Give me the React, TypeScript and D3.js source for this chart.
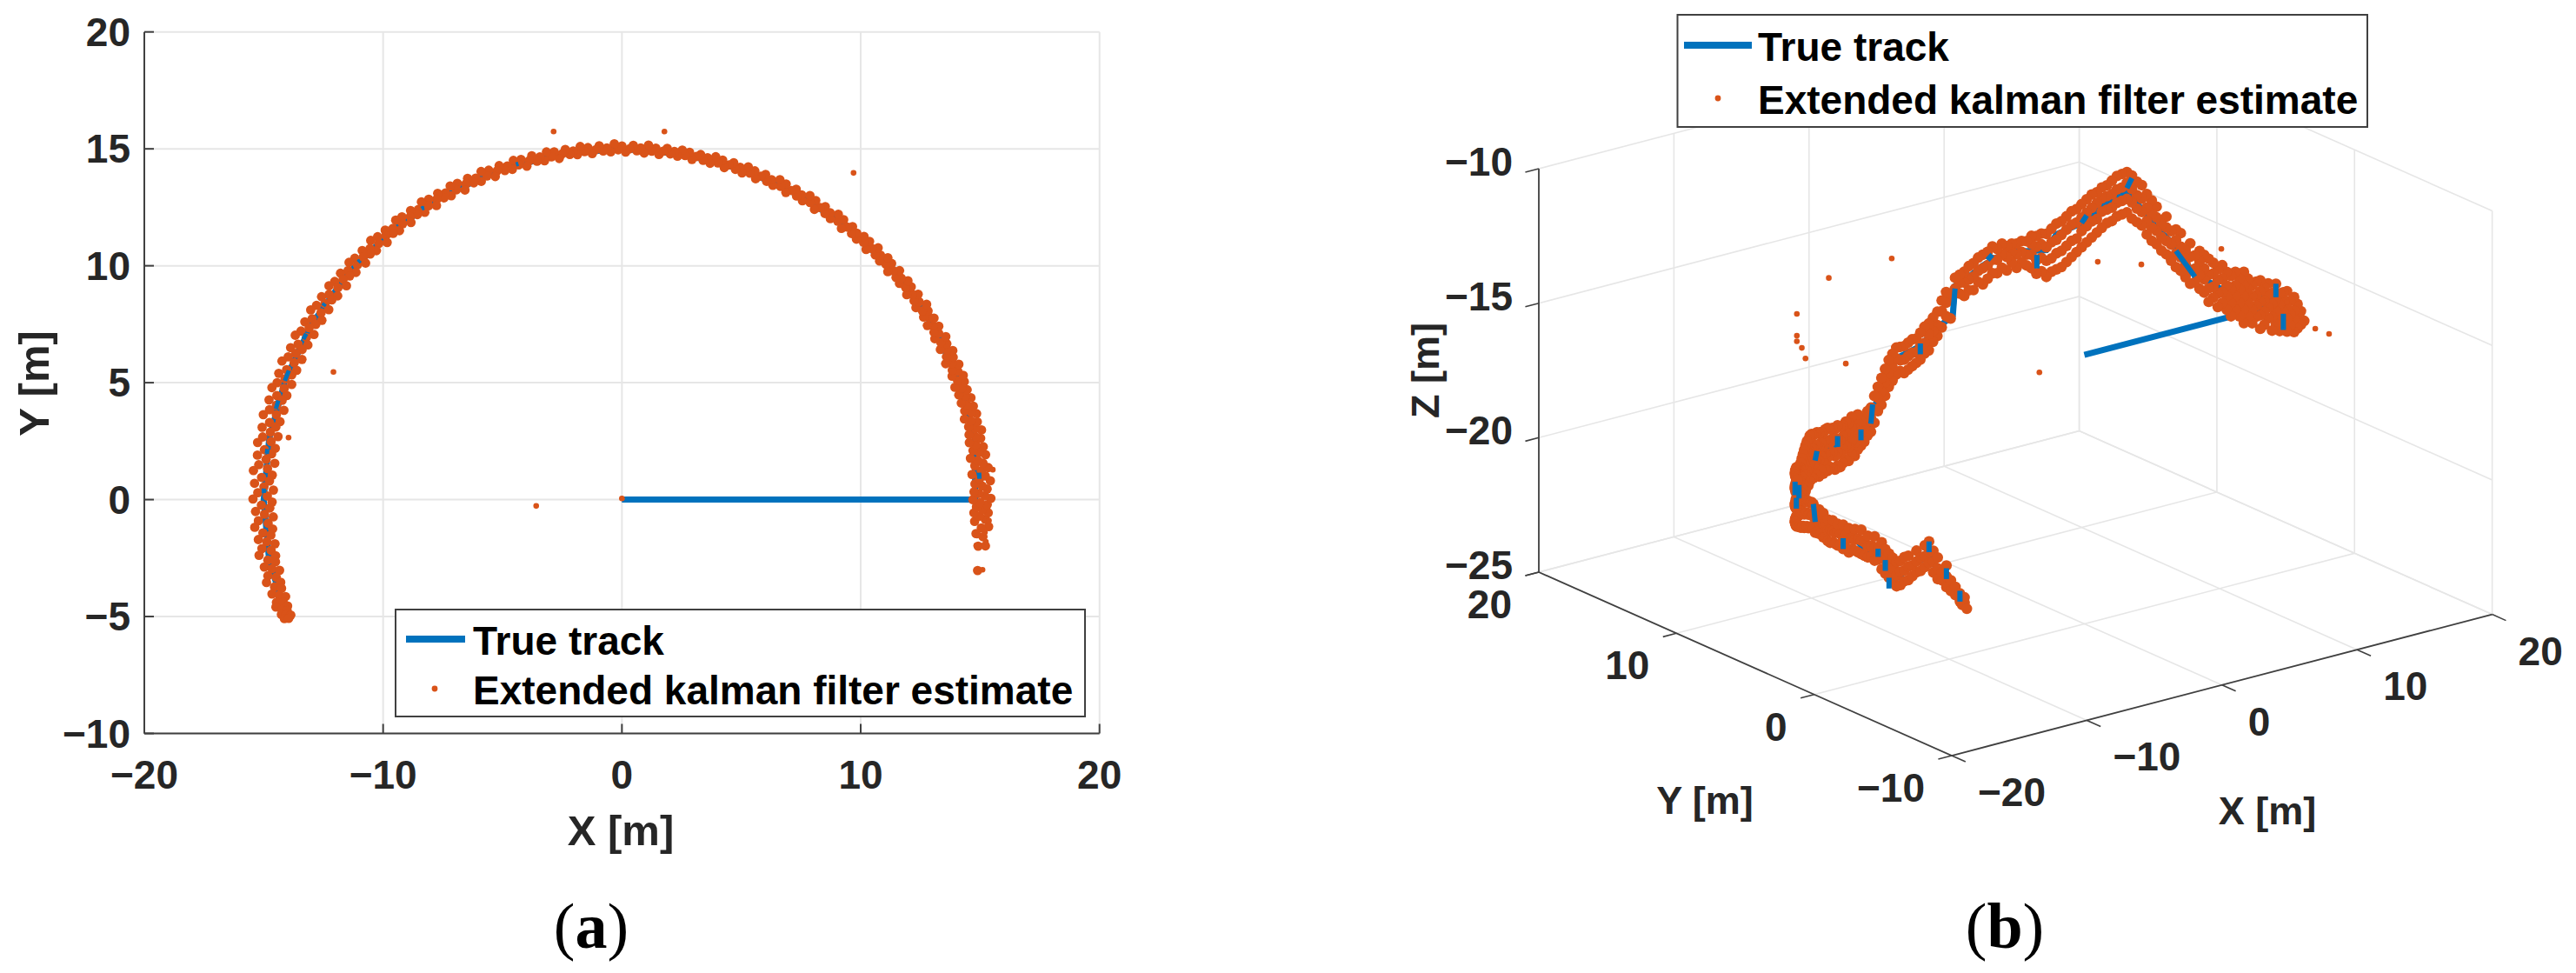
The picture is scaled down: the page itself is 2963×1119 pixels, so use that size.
import React from "react";
import * as d3 from "d3";

const xTicksA = [-20, -10, 0, 10, 20];
const yTicksA = [-10, -5, 0, 5, 10, 15, 20];
const xTicksB = [-20, -10, 0, 10, 20];
const yTicksB = [-10, 0, 10, 20];
const zTicksB = [-25, -20, -15, -10];
const seriesNames = ["True track", "Extended kalman filter estimate"];

// panel (a): true track as [angle deg, radius m]
const trackA = [[0,0],[0,14.8],[10,15],[20,15],[30,15],[40,15],[50,15],[60,15],[70,15],[80,15],[90,15],[100,15],[110,15],[120,15],[130,15],[140,15],[150,15],[160,15],[170,15],[180,15],[190,15],[199,14.9]];
// panel (a): places where the track shows through the estimates, [from deg, to deg]
const trackShowsA = [[163.6,165],[158.4,160.2],[151.8,152.8],[171.7,172.5],[178.2,178.9],[123.6,124],[106.8,107.2],[3.4,4.4],[146,146.5],[137,137.4]];

// panel (a): estimates as [angle deg, radius m], read along the band
const estimateA = [
[-11.5,15.2],[-7.6,15.05],[-7.4,15.35],[-6,15.2],[-5.6,14.9],[-4.3,15.4],[-4.6,15.1],[-3.6,14.8],[-3.2,15.25],[-2.7,15],[-2.2,14.75],[-2.1,15.35],[-1.6,15.1],[-1.2,14.85],[-0.8,15.3],[-0.5,15],[0,14.7],[0.2,15.45],[0.6,15.2],
[1,14.95],[1.3,14.75],[1.7,15.3],[2.2,15.1],[2.6,14.8],[3,15.45],[3.4,15],[3.8,15.25],[4.2,14.7],[4.7,15.1],[5.1,15.4],[5.6,14.85],[5.9,15.2],[6.4,15],[6.9,14.7],[7.2,15.35],[7.7,15.1],[8.1,14.85],[8.5,15.3],[9,15],[9.5,14.75],
[9.9,15.25],[10.3,15.05],[10.8,14.8],[11.2,15.35],[11.6,15.1],[12.1,14.85],[12.6,15.25],[13,15],[13.5,14.75],[13.9,15.3],[14.3,15.1],[14.8,14.85],[15.2,15.25],[15.7,15],[16.2,14.8],[16.6,15.25],[17.1,15.05],[17.6,14.8],[18,15.2],[18.5,15],
[19,14.75],[19.4,15.2],[19.9,14.95],[20.4,15.25],[20.9,14.8],[21.3,15.1],[21.8,14.9],[22.3,15.25],[22.8,15],[23.2,14.75],[23.7,15.15],[24.2,14.9],[24.7,15.25],[25.2,15.05],[25.7,14.8],[26.1,15.15],[26.7,14.95],[27.2,15.25],[27.7,14.8],[28.2,15.05],
[28.7,14.9],[29.2,15.2],[29.7,15],[30.2,14.8],[30.7,15.2],[31.2,15.05],[31.7,14.85],[32.2,15.15],[32.7,14.95],[33.2,15.25],[33.7,14.8],[34.2,15.05],[34.8,14.9],[35.3,15.2],[35.8,15],[36.3,14.8],[36.9,15.15],[37.4,14.95],[38,15.2],[38.5,14.85],
[39,15.05],[39.6,14.9],[40.1,15.2],[40.7,15],[41.2,14.8],[41.8,15.15],[42.3,14.95],[42.9,15.2],[43.4,14.85],[44,15.05],[44.6,14.9],[45.1,15.2],[45.7,15],[46.3,14.8],[46.8,15.15],[47.4,14.95],[48,15.15],[48.6,14.85],[49.2,15.05],[49.8,14.9],
[50.4,15.15],[51,15],[51.6,14.8],[52.2,15.15],[52.8,14.95],[53.4,15.2],[54,14.85],[54.6,15.05],[55.2,14.9],[55.8,15.15],[56.4,15],[57,14.8],[57.6,15.15],[58.2,14.95],[58.8,15.2],[59.4,14.85],[60,15.05],[60.6,14.9],[61.2,15.15],[61.8,15],
[62.4,14.82],[63,15.15],[63.6,14.95],[64.2,15.2],[64.8,14.85],[65.4,15.05],[66,14.9],[66.6,15.15],[67.2,15],[67.8,14.82],[68.4,15.12],[69,14.95],[69.6,15.18],[70.2,14.85],[70.8,15.05],[71.4,14.9],[72,15.15],[72.6,15],[73.2,14.83],[73.8,15.12],
[74.4,14.95],[75,15.18],[75.6,14.85],[76.2,15.05],[76.8,14.9],[77.4,15.12],[78,15],[78.6,14.84],[79.2,15.12],[79.8,14.95],[80.4,15.16],[81,14.87],[81.6,15.05],[82.2,14.92],[82.8,15.14],[83.4,15],[84,14.84],[84.6,15.1],[85.2,14.95],[85.8,15.2],
[86.4,14.85],[87,15.06],[87.6,14.93],[88.2,15.16],[88.8,15],[89.4,14.86],[90,15.12],[90.6,14.96],[91.2,15.22],[91.8,14.88],[92.4,15.05],[93,14.93],[93.6,15.16],[94.2,15],[94.8,14.85],[95.4,15.12],[96,14.96],[96.6,15.2],[97.2,14.87],[97.8,15.05],
[98.4,14.92],[99,15.16],[99.6,15],[100.2,14.82],[100.8,15.14],[101.4,14.95],[102,15.2],[102.6,14.85],[103.2,15.05],[103.8,14.9],[104.4,15.18],[105,15],[105.6,14.8],[106.2,15.15],[106.8,14.95],[107.4,15.2],[108,14.85],[108.6,15.05],[109.2,14.9],[109.8,15.18],
[110.4,15],[111,14.8],[111.6,15.15],[112.2,14.95],[112.8,15.22],[113.4,14.83],[114,15.05],[114.6,14.9],[115.2,15.18],[115.8,15],[116.4,14.78],[117,15.18],[117.6,14.95],[118.2,15.22],[118.8,14.83],[119.4,15.05],[120,14.9],[120.5,15.2],[121.1,15],[121.7,14.78],
[122.2,15.18],[122.8,14.95],[123.4,15.25],[123.9,14.8],[124.5,15.05],[125.1,14.9],[125.6,15.2],[126.2,15],[126.7,14.78],[127.3,15.2],[127.9,14.95],[128.4,15.25],[129,14.8],[129.6,15.05],[130.1,14.88],[130.7,15.2],[131.2,15],[131.8,14.75],[132.3,15.2],[132.9,14.95],
[133.5,15.28],[134,14.8],[134.5,15.05],[135.1,14.88],[135.6,15.22],[136.2,15],[136.7,14.75],[137.3,15.22],[137.8,14.95],[138.4,15.28],[138.9,14.78],[139.5,15.08],[140,14.88],[140.6,15.25],[141.1,15],[141.6,14.72],[142.2,15.22],[142.7,14.95],[143.3,15.3],[143.8,14.75],
[144.4,15.08],[144.9,14.85],[145.4,15.28],[146,15],[146.5,14.72],[147,15.25],[147.6,14.92],[148.1,15.35],[148.6,14.72],[149.2,15.1],[149.7,14.85],[150.2,15.3],[150.7,15.02],[151.3,14.7],[151.8,15.25],[152.3,14.92],[152.8,15.38],[153.3,14.72],[153.9,15.1],[154.4,14.85],
[154.9,15.32],[155.4,15.02],[155.9,14.68],[156.4,15.25],[156.9,14.92],[157.4,15.42],[157.9,14.7],[158.4,15.1],[158.9,14.82],[159.4,15.35],[159.9,15.02],[160.4,14.68],[160.9,15.28],[161.4,14.92],[161.9,15.42],[162.4,14.72],[162.9,15.12],[163.4,14.85],[163.9,15.38],[164.4,15.02],
[164.9,14.66],[165.4,15.25],[165.9,14.92],[166.4,15.45],[166.9,14.7],[167.4,15.12],[167.9,14.82],[168.4,15.38],[168.9,15],[169.4,14.65],[169.9,15.28],[170.4,14.9],[170.9,15.45],[171.4,14.68],[171.9,15.12],[172.4,14.8],[172.9,15.38],[173.4,15],[173.9,14.62],[174.4,15.28],
[174.9,14.9],[175.4,15.48],[175.9,14.68],[176.4,15.12],[176.9,14.78],[177.4,15.4],[177.9,15],[178.4,14.6],[178.9,15.25],[179.4,14.85],[179.9,15.45],[180.4,14.65],[180.9,15.1],[181.4,14.75],[181.9,15.35],[182.4,14.98],[182.9,14.62],[183.4,15.25],[183.9,14.85],[184.4,15.42],
[184.9,14.68],[185.4,15.1],[185.9,14.78],[186.4,15.32],[186.9,14.98],[187.4,14.65],[187.9,15.22],[188.4,14.85],[188.9,15.38],[189.4,14.7],[189.9,15.05],[190.4,14.75],[190.9,15.25],[191.4,14.95],[191.9,14.65],[192.4,15.18],[192.9,14.85],[193.4,15.3],[193.9,14.72],[194.4,15.02],
[194.9,14.75],[195.4,15.2],[195.9,14.92],[196.4,14.68],[196.9,15.12],[197.2,14.85],[197.6,15.2],[198,14.72],[198.3,15],[198.7,14.8],[199,15.08],[199.3,14.92],[199.6,14.72],[199.8,15.02],[200,14.85],
];

// panel (a): isolated estimates as [x m, y m]
const outliersA = [[0,0.05],[-3.59,-0.27],[-2.86,15.74],[1.78,15.74],[9.7,13.97],[-12.08,5.46],[-13.96,2.65],[15.53,1.28],[15.37,-0.9],[14.87,-1.54],[14.84,-1.96],[15.24,-1.8],[15.1,-3],[15.2,-1.4]];

// panel (b): true track as [angle deg, radius m, z m]
const trackB = [[0,0,-15],[0,15,-15],[8,15,-15.3],[14,15,-15.5],[20,15,-15.2],[24,15,-14.8],[27,15,-14.1],[30,15,-13.7],[34,15,-12.9],[36,15,-12.5],[38,15,-12.8],[41,15,-13.2],[45,15,-13.9],[50,15,-14.4],[52,15,-15],[58,15,-15.1],[62,15,-15.3],[65,15,-15.6],[68,15,-16],[71,15,-16.3],[71.5,15,-17.4],[75,15,-17.8],[79,15,-18.4],[85,15,-18.7],[88,15,-19.4],[90,15,-20],[92,15,-20.7],[92.3,15,-21.2],[100,15,-21.2],[108,15,-21.2],[115,15,-21.1],[120,15,-21.1],[125,15,-21.7],[135,15,-21.4],[145,15,-21.1],[150,15,-20.9],[155,15,-20.6],[157,15,-21.1],[165,15,-20.6],[172,15,-20.3],[176,15,-20.7],[180,15,-20.3],[184,15,-21.1],[188,15,-20.4],[192,15,-19.8],[194,15,-20.3],[196,15,-20.4],[200,15,-21.2]];
// panel (b): places where the track shows through the estimates, [deg, z, deg, z]
const trackShowsB = [[71,-16.4,71.5,-17.3],[53.9,-15.2,53.9,-15.7],[26,-14.4,22,-15.2],[3,-14.5,3,-15],[1,-15.5,1,-16.1],[79,-18.3,79,-18.7],[91.5,-20.2,92,-20.9],[95,-21,95,-21.4],[155,-20.2,156,-20.8],[168,-20.6,168,-21],[179,-20.3,179,-20.6],[181,-20.6,181,-21],[182,-21.2,182,-21.6],[192,-19.3,192,-19.7],[196,-20.1,196,-20.5],[199,-20.8,199,-21.2],[134,-20.8,134,-21.3],[103,-20.9,103,-21.3],[35,-12,36,-12.4],[44,-13.6,45,-13.9],[63,-15.2,64,-15.4],[112,-21,113,-21.3],[125,-21.5,125,-22],[140,-21,140,-21.4]];

// panel (b): estimates, each row [angle deg, z m, z m, ...], read along the band
const estimateB = [
[-5,-15.4],[-4,-15.6,-15.1],[-3,-15.8,-15.3,-14.9],[-2,-16,-15.5,-15.2,-14.7],[-1,-15.8,-15.4,-14.9],[0,-16.1,-15.6,-15.2,-14.6],[1,-15.9,-15.4,-15,-14.7],[2,-16.2,-15.7,-15.2,-14.8],[3,-16,-15.5,-15.1,-14.5],[4,-16.3,-15.8,-15.3,-14.9],
[5,-15.9,-15.5,-15,-14.6],[6,-16.2,-15.7,-15.3,-14.8],[7,-16.4,-15.9,-15.4,-15,-14.6],[8,-16,-15.6,-15.2,-14.7],[9,-16.3,-15.8,-15.3,-14.9],[10,-16.1,-15.6,-15.1,-14.7],[11,-16.4,-15.9,-15.4,-15,-14.5],[12,-16.2,-15.7,-15.2,-14.8],[13,-16,-15.5,-15.1,-14.6],[14,-16.3,-15.8,-15.3,-14.8],
[15,-16.1,-15.6,-15.2,-14.7],[16,-15.9,-15.5,-15,-14.5],[17,-16.1,-15.6,-15.1,-14.7],[18,-15.8,-15.4,-14.9,-14.5],[19,-16,-15.5,-15,-14.4],[20,-15.7,-15.2,-14.8,-14.3],[21,-15.6,-15.1,-14.6,-14.2],[22,-15.4,-14.9,-14.4],[23,-15.5,-15,-14.5,-14],[24,-15.3,-14.8,-14.3],
[25,-15.1,-14.6,-14.2,-13.7],[26,-15,-14.5,-14,-13.6],[27,-14.8,-14.2,-13.7],[28,-14.6,-14.1,-13.6,-13.2],[29,-14.5,-14,-13.5],[30,-14.3,-13.8,-13.3,-12.9],[31,-14.2,-13.7,-13.2,-12.7],[32,-14,-13.5,-13,-12.5],[33,-13.7,-13.2,-12.7,-12.2],[34,-13.6,-13.1,-12.6,-12.1],
[35,-13.5,-12.9,-12.4,-11.9],[36,-13.3,-12.8,-12.2,-11.8],[37,-13.4,-12.9,-12.4,-11.9],[38,-13.5,-13,-12.5,-12],[39,-13.7,-13.2,-12.7,-12.2],[40,-13.8,-13.3,-12.8,-12.4],[41,-14,-13.4,-12.9,-12.5],[42,-14.2,-13.7,-13.1,-12.7],[43,-14.4,-13.8,-13.3,-12.8],[44,-14.6,-14,-13.5,-13],
[45,-14.8,-14.2,-13.7,-13.2],[46,-15,-14.5,-13.9,-13.4],[47,-15.2,-14.6,-14,-13.5],[48,-15.4,-14.8,-14.2,-13.7],[49,-15.6,-15,-14.4,-13.9],[50,-15.7,-15.1,-14.6,-14],[51,-15.8,-15.3,-14.7,-14.2],[52,-16,-15.4,-14.9,-14.4],[53,-15.8,-15.3,-14.8,-14.4],[54,-15.9,-15.4,-14.9,-14.5],
[55,-15.7,-15.2,-14.8,-14.5],[56,-15.6,-15.2,-14.7],[57,-15.5,-15.1,-14.7],[58,-15.7,-15.2,-14.8],[59,-15.5,-15.1,-14.8],[60,-15.8,-15.3,-14.9],[61,-15.7,-15.2,-14.8],[62,-15.9,-15.4,-15],[63,-15.9,-15.4,-14.9],[64,-16.1,-15.6,-15.1],
[65,-16.3,-15.7,-15.2],[66,-16.2,-15.8,-15.3],[67,-16.5,-16,-15.5],[68,-16.5,-16.1,-15.6],[69,-16.7,-16.2,-15.8],[70,-16.6,-16.2,-15.9],[71,-16.4,-16],[72,-17.5,-16.7],[73,-17.4,-16.9,-16.5],[74,-17.8,-17.2,-16.8],
[75,-18.1,-17.7,-17.2],[76,-18.3,-17.9,-17.4],[77,-18.6,-18,-17.6],[78,-18.7,-18.3,-17.7],[79,-18.9,-18.4,-17.9],[80,-19,-18.6,-18.1],[81,-19.1,-18.6,-18.1],[82,-19.2,-18.7,-18.2],[83,-19.3,-18.8,-18.3],[84,-19.2,-18.8,-18.3],
[85,-19.3,-18.7,-18.3],[86,-19.5,-19,-18.5],[87,-19.7,-19.2,-18.7],[88,-20,-19.5,-19],[89,-20.3,-19.8,-19.3],[90,-20.5,-20,-19.6],[91,-20.9,-20.4,-19.9],[92,-21.2,-20.7,-20.3],[93,-21.3,-20.8,-20.4],[94,-21.5,-21,-20.6],
[95,-21.6,-21.1,-20.7],[96,-21.7,-21.2,-20.7,-20.4],[97,-21.9,-21.4,-20.9],[98,-21.8,-21.3,-20.8,-20.4],[99,-22,-21.5,-21,-20.6],[100,-21.9,-21.4,-20.9,-20.5],[101,-22,-21.5,-21,-20.6],[102,-22.1,-21.6,-21.1,-20.6],[103,-22,-21.5,-21,-20.5],[104,-22.1,-21.6,-21,-20.6],
[105,-22,-21.4,-20.9,-20.5],[106,-21.9,-21.4,-21,-20.5],[107,-22,-21.5,-20.9,-20.4],[108,-21.9,-21.3,-20.8,-20.4],[109,-22,-21.5,-21,-20.5],[110,-21.8,-21.3,-20.8,-20.4],[111,-22,-21.4,-20.9,-20.4],[112,-21.9,-21.3,-20.8,-20.3],[113,-21.8,-21.3,-20.7,-20.3],[114,-21.9,-21.4,-20.8,-20.3],
[115,-21.8,-21.2,-20.7,-20.2],[116,-21.9,-21.3,-20.8,-20.2],[117,-22,-21.4,-20.8,-20.3],[118,-22,-21.4,-20.9,-20.3],[119,-22.1,-21.5,-20.9,-20.4],[120,-22.2,-21.6,-21,-20.5],[121,-22.3,-21.7,-21.1,-20.6],[122,-22.4,-21.8,-21.2,-20.7],[123,-22.5,-21.9,-21.3,-20.8],[124,-22.6,-22,-21.4,-20.9],
[125,-22.6,-22,-21.4,-20.8],[126,-22.6,-21.9,-21.4,-20.8],[127,-22.5,-21.9,-21.3,-20.7],[128,-22.5,-21.9,-21.2,-20.7],[129,-22.4,-21.8,-21.2,-20.6],[130,-22.4,-21.7,-21.1,-20.6],[131,-22.4,-21.8,-21.1,-20.6],[132,-22.3,-21.7,-21.1,-20.5],[133,-22.3,-21.7,-21,-20.5],[134,-22.3,-21.6,-21,-20.5],
[135,-22.2,-21.6,-21,-20.4],[136,-22.2,-21.6,-20.9,-20.4],[137,-22.1,-21.5,-20.9,-20.4],[138,-22.1,-21.5,-20.9,-20.3],[139,-22.1,-21.4,-20.8,-20.3],[140,-22,-21.4,-20.8,-20.3],[141,-22,-21.3,-20.7,-20.3],[142,-21.9,-21.3,-20.7,-20.2],[143,-21.8,-21.3,-20.7],[144,-21.8,-21.2,-20.7],
[145,-21.7,-21.2,-20.6],[146,-21.7,-21.1,-20.6],[147,-21.6,-21.1,-20.6],[148,-21.5,-21,-20.5],[149,-21.5,-21,-20.5],[150,-21.4,-20.9,-20.4],[151,-21.3,-20.8,-20.4],[152,-21.3,-20.8,-20.3],[153,-21.2,-20.7,-20.3],[154,-21.1,-20.7,-20.2],
[155,-21.1,-20.6,-20.2],[156,-21.2,-20.7],[157,-21.1,-20.6,-20.3],[158,-21.1,-20.7,-20.2],[159,-21,-20.6],[160,-21.1,-20.6,-20.2],[161,-21,-20.5],[162,-21.1,-20.7,-20.3],[163,-21.1,-20.6],[164,-21,-20.6,-20.2],
[165,-21,-20.6],[166,-21,-20.5,-20.2],[167,-20.9,-20.5],[168,-21,-20.6,-20.1],[169,-20.9,-20.4],[170,-21,-20.5,-20.1],[171,-20.8,-20.4],[172,-20.8,-20.4,-20],[173,-20.8,-20.3],[174,-20.8,-20.3,-19.9],
[175,-20.8,-20.3],[176,-20.8,-20.4,-20],[177,-20.7,-20.3],[178,-20.8,-20.3,-19.9],[179,-20.7,-20.3],[180,-21,-20.5,-20],[181,-21.1,-20.6,-20.2],[182,-21.2,-20.7,-20.3],[183,-21.3,-20.8,-20.4],[184,-21.4,-21,-20.5],
[185,-21.3,-20.8,-20.4],[186,-21.1,-20.7,-20.2],[187,-21,-20.5,-20.1],[188,-20.8,-20.4],[189,-20.6,-20.2,-19.8],[190,-20.5,-20],[191,-20.3,-19.9,-19.5],[192,-20.1,-19.7,-19.3],[193,-20.4,-20,-19.6],[194,-20.6,-20.2,-19.8],
[195,-20.6,-20.3],[196,-20.8,-20.4,-20],[197,-20.9,-20.5],[198,-21,-20.7],[199,-21.2,-20.9],[199.5,-21.3],[200,-21.2,-21],[200.5,-21.4],
];

// panel (b): isolated estimates as [angle deg, z m]
const outliersB = [[0,-15],[86.2,-14.95],[106.5,-14.85],[128,-14.95],[128,-15.76],[128,-15.97],[122,-16.59],[119,-17.16],[100,-18.34],[53.4,-19.56],[41.8,-15.28],[-13.3,-15.35],[-8.5,-15.47],[33.1,-15.15],[16.2,-13.9]];

const BLUE = "#0072BD";
const ORANGE = "#D95319";
const TEXT = "#262626";
const GRID = "#e6e6e6";
const AXIS = "#404040";
const SANS = "'Liberation Sans', Arial, sans-serif";
const SERIF = "'Liberation Serif', 'Times New Roman', serif";
const rad = (a: number) => (a * Math.PI) / 180;
const polar = (a: number, r: number) => [r * Math.cos(rad(a)), r * Math.sin(rad(a))];
const label = (v: number) => String(v).replace("-", "\u2212");

const xA = d3.scaleLinear().domain([-20, 20]).range([166, 1264.7]);
const yA = d3.scaleLinear().domain([-10, 20]).range([843.5, 36.7]);
const lineA = d3.line<number[]>().x((d) => xA(d[0])).y((d) => yA(d[1]));

// oblique projection of panel (b), one scale per screen component of each axis
const xToH = d3.scaleLinear().domain([-20, 20]).range([0, 621.6]);
const xToV = d3.scaleLinear().domain([-20, 20]).range([0, -162.4]);
const yToH = d3.scaleLinear().domain([20, -10]).range([0, 475]);
const yToV = d3.scaleLinear().domain([20, -10]).range([0, 211]);
const zToV = d3.scaleLinear().domain([-25, -10]).range([658, 194]);
const P = (x: number, y: number, z: number): [number, number] => [
  1770 + xToH(x) + yToH(y),
  zToV(z) + xToV(x) + yToV(y),
];
const arcP = (a: number, z: number): [number, number] => { const [x, y] = polar(a, 15); return P(x, y, z); };
const lineB = d3.line<[number, number]>();
const poly = (...pts: [number, number][]) => lineB(pts) as string;

const Tick = ({ x, y, anchor, size = 46, children }: any) => (
  <text x={x} y={y} textAnchor={anchor} fontFamily={SANS} fontWeight={700} fontSize={size} fill={TEXT}>{children}</text>
);

function Legend({ x, y, w, h, lineY, dotY, base1, base2, x1, x2, dotX, textX }: any) {
  return (
    <g>
      <rect x={x} y={y} width={w} height={h} fill="#fff" stroke={AXIS} strokeWidth={2} />
      <line x1={x1} x2={x2} y1={lineY} y2={lineY} stroke={BLUE} strokeWidth={8} />
      <circle cx={dotX} cy={dotY} r={3.4} fill={ORANGE} />
      <text x={textX} y={base1} fontFamily={SANS} fontWeight={700} fontSize={46} fill="#000">{seriesNames[0]}</text>
      <text x={textX} y={base2} fontFamily={SANS} fontWeight={700} fontSize={46} fill="#000">{seriesNames[1]}</text>
    </g>
  );
}

function PanelA() {
  return (
    <g>
      {xTicksA.map((t) => <line key={t} x1={xA(t)} x2={xA(t)} y1={yA(-10)} y2={yA(20)} stroke={GRID} strokeWidth={2} />)}
      {yTicksA.map((t) => <line key={t} x1={xA(-20)} x2={xA(20)} y1={yA(t)} y2={yA(t)} stroke={GRID} strokeWidth={2} />)}
      <path d={lineA(trackA.map(([a, r]) => polar(a, r))) as string} fill="none" stroke={BLUE} strokeWidth={7} />
      {estimateA.map(([a, r], i) => { const d = polar(a, r); return <circle key={i} cx={xA(d[0])} cy={yA(d[1])} r={5.4} fill={ORANGE} />; })}
      {outliersA.map((d, i) => <circle key={i} cx={xA(d[0])} cy={yA(d[1])} r={3.3} fill={ORANGE} />)}
      {trackShowsA.map(([a0, a1], i) => <path key={i} d={lineA([polar(a0, 15), polar(a1, 15)]) as string} fill="none" stroke={BLUE} strokeWidth={5} />)}
      <line x1={xA(-20)} x2={xA(-20)} y1={yA(-10)} y2={yA(20)} stroke={AXIS} strokeWidth={2} />
      <line x1={xA(-20)} x2={xA(20)} y1={yA(-10)} y2={yA(-10)} stroke={AXIS} strokeWidth={2} />
      {xTicksA.map((t) => <line key={t} x1={xA(t)} x2={xA(t)} y1={yA(-10)} y2={yA(-10) - 11} stroke={AXIS} strokeWidth={2} />)}
      {yTicksA.map((t) => <line key={t} x1={xA(-20)} x2={xA(-20) + 11} y1={yA(t)} y2={yA(t)} stroke={AXIS} strokeWidth={2} />)}
      {xTicksA.map((t) => <Tick key={t} x={xA(t)} y={907} anchor="middle">{label(t)}</Tick>)}
      {yTicksA.map((t) => <Tick key={t} x={150} y={yA(t) + 16} anchor="end">{label(t)}</Tick>)}
      <Tick x={714} y={972} anchor="middle" size={49}>X [m]</Tick>
      <g transform="translate(56,441) rotate(-90)"><Tick x={0} y={0} anchor="middle" size={49}>Y [m]</Tick></g>
      <Legend x={455} y={701} w={793} h={123} x1={467} x2={535} lineY={735} dotX={500} dotY={792} textX={544} base1={753} base2={810} />
      <text x={680} y={1090} textAnchor="middle" fontFamily={SERIF} fontSize={74} fill="#000">(<tspan fontWeight={700}>a</tspan>)</text>
    </g>
  );
}

function PanelB() {
  const track = trackB.map(([a, r, z]) => { const [x, y] = polar(a, r); return P(x, y, z); });
  const band = estimateB.flatMap(([a, ...zs]) => zs.map((z) => arcP(a, z)));
  const lone = outliersB.map(([a, z]) => arcP(a, z));
  return (
    <g fill="none">
      {xTicksB.map((t) => <path key={t} d={poly(P(t, -10, -25), P(t, 20, -25), P(t, 20, -10))} stroke={GRID} strokeWidth={1.6} />)}
      {yTicksB.map((t) => <path key={t} d={poly(P(-20, t, -25), P(20, t, -25), P(20, t, -10))} stroke={GRID} strokeWidth={1.6} />)}
      {zTicksB.map((t) => <path key={t} d={poly(P(-20, 20, t), P(20, 20, t), P(20, -10, t))} stroke={GRID} strokeWidth={1.6} />)}
      <path d={lineB(track) as string} stroke={BLUE} strokeWidth={7} />
      {band.map((d, i) => <circle key={i} cx={d[0]} cy={d[1]} r={6.2} fill={ORANGE} />)}
      {lone.map((d, i) => <circle key={i} cx={d[0]} cy={d[1]} r={3.3} fill={ORANGE} />)}
      {trackShowsB.map(([a0, z0, a1, z1], i) => <path key={i} d={poly(arcP(a0, z0), arcP(a1, z1))} stroke={BLUE} strokeWidth={6} />)}
      <path d={poly(P(-20, 20, -10), P(-20, 20, -25), P(-20, -10, -25), P(20, -10, -25))} stroke={AXIS} strokeWidth={1.8} />
      {zTicksB.map((t) => <path key={t} d={poly(P(-20, 20, t), P(-21, 20, t))} stroke={AXIS} strokeWidth={1.6} />)}
      {yTicksB.map((t) => <path key={t} d={poly(P(-20, t, -25), P(-21, t, -25))} stroke={AXIS} strokeWidth={1.6} />)}
      {xTicksB.map((t) => <path key={t} d={poly(P(t, -10, -25), P(t, -11, -25))} stroke={AXIS} strokeWidth={1.6} />)}
      {zTicksB.map((t) => { const [x, y] = P(-20, 20, t); return <Tick key={t} x={x - 30} y={y + 8} anchor="end">{label(t)}</Tick>; })}
      {yTicksB.map((t) => { const [x, y] = P(-20, t, -25); return <Tick key={t} x={x - 31} y={y + 53} anchor="end">{label(t)}</Tick>; })}
      {xTicksB.map((t) => { const [x, y] = P(t, -10, -25); return <Tick key={t} x={x + 30} y={y + 58} anchor="start">{label(t)}</Tick>; })}
      <g transform="translate(1655,426) rotate(-90)"><Tick x={0} y={0} anchor="middle" size={45}>Z [m]</Tick></g>
      <Tick x={1961} y={936} anchor="middle" size={45}>Y [m]</Tick>
      <Tick x={2608} y={948} anchor="middle" size={45}>X [m]</Tick>
      <Legend x={1929.5} y={17} w={793.5} h={129} x1={1937} x2={2015} lineY={52} dotX={1976} dotY={113} textX={2022} base1={70} base2={131} />
      <text x={2306} y={1090} textAnchor="middle" fontFamily={SERIF} fontSize={74} fill="#000">(<tspan fontWeight={700}>b</tspan>)</text>
    </g>
  );
}

export default function App() {
  return (
    <svg width={2963} height={1119} viewBox="0 0 2963 1119" style={{ position: "absolute", left: 0, top: 0, display: "block", background: "#fff" }}>
      <PanelA />
      <PanelB />
    </svg>
  );
}
